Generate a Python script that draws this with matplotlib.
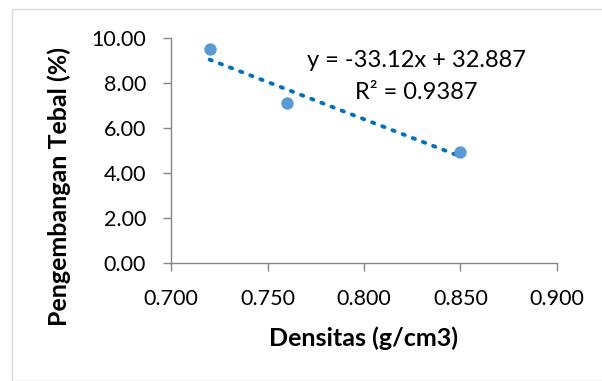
import numpy as np
import matplotlib.pyplot as plt
from matplotlib.patches import Rectangle

# data
densitas = [0.720, 0.760, 0.850]
pengembangan = [9.50, 7.10, 4.95]
slope = -33.12
intercept = 32.887
r_squared = 0.9387
x_ticks = [0.700, 0.750, 0.800, 0.850, 0.900]
y_ticks = [0.0, 2.0, 4.0, 6.0, 8.0, 10.0]

plt.rcParams['font.family'] = ['Lato', 'DejaVu Sans']

W, H = 602, 381
fig = plt.figure(figsize=(W / 100, H / 100), dpi=100)
fig.patch.set_facecolor('white')

# light chart-area border like Excel
fig.patches.append(Rectangle((12 / W, 0), 1.0, 1 - 9 / H, transform=fig.transFigure,
                             fill=False, edgecolor='#d9d9d9', linewidth=1.0))

left, right, top, bottom = 171, 557, 38, 263
ax = fig.add_axes([left / W, 1 - bottom / H, (right - left) / W, (bottom - top) / H])

xfit = np.array([min(densitas), max(densitas)])
ax.plot(xfit, slope * xfit + intercept, color='#0070C0', linestyle=(0, (0.6, 2.2)),
        linewidth=2.8, dash_capstyle='round', zorder=2)
ax.scatter(densitas, pengembangan, s=80, color='#5B9BD5', zorder=3, linewidths=0)

ax.set_xlim(0.700, 0.900)
ax.set_ylim(0, 10)
ax.set_xticks(x_ticks)
ax.set_yticks(y_ticks)
ax.set_xticklabels(['{:.3f}'.format(v) for v in x_ticks])
ax.set_yticklabels(['{:.2f}'.format(v) for v in y_ticks])
ax.tick_params(axis='both', labelsize=15.5, length=6, width=1, color='#868686',
               labelcolor='black', direction='out')
ax.tick_params(axis='x', pad=13)
ax.tick_params(axis='y', pad=12)

for s in ['top', 'right']:
    ax.spines[s].set_visible(False)
for s in ['left', 'bottom']:
    ax.spines[s].set_color('#868686')
    ax.spines[s].set_linewidth(1.0)

ax.set_xlabel('Densitas (g/cm3)', fontsize=18, fontweight='bold', labelpad=12)
ax.set_ylabel('Pengembangan Tebal (%)', fontsize=18, fontweight='bold')
# the Excel axis title sits lower than the plot centre
ax.yaxis.set_label_coords(-0.258, 0.342)

ax.text(0.827, 9.0, 'y = {:.2f}x + {:.3f}'.format(slope, intercept), fontsize=17,
        ha='center', va='center')
ax.text(0.827, 7.6, 'R² = {:.4f}'.format(r_squared), fontsize=17,
        ha='center', va='center')

fig.savefig('out.png', dpi=100)
